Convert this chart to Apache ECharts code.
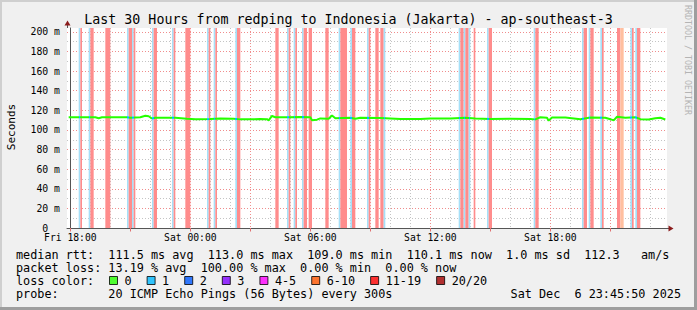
<!DOCTYPE html>
<html><head><meta charset="utf-8">
<script src="https://cdn.jsdelivr.net/npm/echarts@6/dist/echarts.min.js"></script>
<style>html,body{margin:0;padding:0;background:#f0f0f0}#c{width:697px;height:310px}</style>
</head><body><div id="c"></div>
<script>
// ---- data (x values in minutes since Fri 18:00) ----
const titleText = 'Last 30 Hours from redping to Indonesia (Jakarta) - ap-southeast-3';
const xLabelMinutes = [0, 360, 720, 1080, 1440];
const xLabelTexts = ['Fri 18:00', 'Sat 00:00', 'Sat 06:00', 'Sat 12:00', 'Sat 18:00'];
const xMajorTickMinutes = [0, 180, 360, 540, 720, 900, 1080, 1260, 1440, 1620];
const yTickValues = [0, 20, 40, 60, 80, 100, 120, 140, 160, 180, 200];

const medianMinutes = [-5, 75, 85, 95, 170, 180, 210, 225, 235, 245, 255, 280, 315, 350, 375, 420, 450, 490, 510, 550, 570, 590, 595, 605, 615, 650, 690, 720, 725, 740, 750, 775, 785, 795, 840, 855, 870, 930, 990, 1050, 1080, 1140, 1185, 1215, 1260, 1320, 1380, 1395, 1410, 1430, 1435, 1445, 1485, 1530, 1560, 1605, 1620, 1630, 1640, 1665, 1695, 1710, 1735, 1755, 1770, 1785];
const medianValues  = [113, 113, 112, 113, 113, 112.5, 113, 114.5, 114, 111.7, 112.5, 112.5, 112.5, 111.5, 111, 111.2, 111.8, 111.5, 110.8, 110.8, 111.2, 111, 109.8, 114.3, 113, 113, 113.2, 113, 110, 110.5, 111.8, 111.5, 114.8, 112, 112.5, 111.5, 112.5, 112.3, 111.3, 111.3, 111.8, 111.8, 112.5, 111.8, 111.3, 111.5, 111.3, 110.8, 113, 112.5, 109.5, 112.8, 112.7, 111, 112.7, 112.5, 111, 109.8, 113.5, 112.5, 113, 111, 110.7, 112, 112.5, 110.7];

const lossStart = [25, 30, 55, 60, 105, 170, 175, 185, 190, 245, 250, 305, 310, 345, 410, 415, 430, 435, 495, 500, 615, 650, 655, 670, 675, 695, 700, 715, 765, 805, 810, 840, 845, 890, 895, 915, 930, 940, 1165, 1170, 1180, 1185, 1195, 1210, 1250, 1255, 1390, 1395, 1535, 1540, 1555, 1560, 1590, 1595, 1640, 1650, 1680, 1685, 1695, 1700];
const lossEnd   = [30, 35, 60, 70, 120, 175, 185, 190, 195, 250, 260, 310, 315, 360, 415, 420, 435, 440, 500, 510, 625, 655, 660, 675, 680, 700, 710, 725, 775, 810, 830, 845, 855, 895, 900, 925, 940, 945, 1170, 1180, 1185, 1195, 1200, 1215, 1255, 1265, 1395, 1405, 1540, 1550, 1560, 1570, 1595, 1600, 1650, 1660, 1685, 1690, 1700, 1710];
const lossLevel = ['1','11-19','1','11-19','11-19','1','11-19','1','11-19','1','11-19','1','11-19','11-19','1','11-19','1','11-19','1','11-19','11-19','1','11-19','1','11-19','1','11-19','11-19','11-19','1','11-19','1','11-19','1','11-19','11-19','11-19','1','1','11-19','1','11-19','1','11-19','1','11-19','1','11-19','1','11-19','1','11-19','1','11-19','11-19','6-10','1','11-19','1','11-19'];

const lossNames  = ['0', '1', '2', '3', '4-5', '6-10', '11-19', '20/20'];
const lossColors = ['#26ff00', '#00b8ff', '#0059ff', '#7e00ff', '#ff00ff', '#ff5500', '#ff0000', '#a10000'];

const legendRows = [
  'median rtt:  111.5 ms avg  113.0 ms max  109.0 ms min  110.1 ms now  1.0 ms sd  112.3   am/s',
  'packet loss: 13.19 % avg  100.00 % max  0.00 % min  0.00 % now',
  'loss color:',
  'probe:       20 ICMP Echo Pings (56 Bytes) every 300s'
];
const dateText = 'Sat Dec  6 23:45:50 2025';

// ---- styles ----
const MONO = '"DejaVu Sans Mono", monospace';
const stripColor = {'1': '#a6e0f8', '6-10': '#ffbf9f', '11-19': '#ff8c8c'};
const RED = '#f08c8c', GRAY = '#c4c4c4';
const nb = s => s.replace(/ /g, '\u00a0');

const G = {left: 67, top: 28, width: 600, height: 200};

// x split-line colour cycle: ticks every 5 min from -10; red every 3h, gray every 1h
const xCycle = [];
for (let i = 0; i < 36; i++) {
  const m = -10 + 5 * i;
  const mm = ((m % 180) + 180) % 180;
  xCycle.push(mm === 0 ? RED : (mm % 60 === 0 ? GRAY : 'rgba(0,0,0,0)'));
}
const yCycle = [];
for (let i = 0; i < 22; i++) yCycle.push(i === 21 ? 'rgba(0,0,0,0)' : (i % 2 === 0 ? RED : GRAY));

const strips = lossStart.map((s, i) => [
  {xAxis: s, itemStyle: {color: stripColor[lossLevel[i]], opacity: 1}},
  {xAxis: lossEnd[i]}
]);

// median line turns blue where one packet was lost
const bluePieces = [];
lossStart.forEach((s, i) => { if (lossLevel[i] === '1') bluePieces.push({gte: s, lt: lossEnd[i], color: lossColors[1]}); });

const chart = echarts.init(document.getElementById('c'), null, {renderer: 'svg'});

const series = [
  {
    name: 'loss', type: 'line', data: [], z: 1, silent: true,
    markArea: {silent: true, itemStyle: {opacity: 1}, label: {show: false}, data: strips}
  },
  {
    name: 'median', type: 'line', z: 3, showSymbol: false, silent: true,
    data: medianMinutes.map((m, i) => [m, medianValues[i]]),
    lineStyle: {width: 2}
  }
];
lossNames.forEach((n, i) => series.push({
  name: n, type: 'scatter', data: [], itemStyle: {color: lossColors[i]}
}));

const graphic = [
  {type: 'rect', shape: {x: 0, y: 0, width: 697, height: 2}, style: {fill: '#cfcfcf'}, silent: true},
  {type: 'rect', shape: {x: 0, y: 0, width: 2, height: 310}, style: {fill: '#cfcfcf'}, silent: true},
  {type: 'rect', shape: {x: 0, y: 307, width: 697, height: 3}, style: {fill: '#9e9e9e'}, silent: true},
  {type: 'rect', shape: {x: 694, y: 0, width: 3, height: 310}, style: {fill: '#9e9e9e'}, silent: true},
  {type: 'text', x: 348.5, y: 19, silent: true,
   style: {text: nb(titleText), font: '13.3px ' + MONO, fill: '#000', align: 'center', verticalAlign: 'middle'}},
  {type: 'text', x: 11, y: 127, rotation: Math.PI / 2, silent: true,
   style: {text: 'Seconds', font: '11px ' + MONO, fill: '#000', align: 'center', verticalAlign: 'middle'}},
  {type: 'text', x: 688, y: 60, rotation: -Math.PI / 2, silent: true,
   style: {text: nb('RRDTOOL / TOBI OETIKER'), font: '8.3px ' + MONO, fill: '#b4b4b4', align: 'center', verticalAlign: 'middle'}},
  {type: 'line', shape: {x1: 67.5, y1: 24, x2: 67.5, y2: 28}, style: {stroke: '#555', lineWidth: 1}, silent: true},
  {type: 'polygon', shape: {points: [[67.5, 20.5], [64.5, 25.5], [70.5, 25.5]]}, style: {fill: '#8b1c1c'}, silent: true},
  {type: 'line', shape: {x1: 667, y1: 228.5, x2: 670, y2: 228.5}, style: {stroke: '#555', lineWidth: 1}, silent: true},
  {type: 'polygon', shape: {points: [[673.5, 228.5], [668.5, 225.5], [668.5, 231.5]]}, style: {fill: '#8b1c1c'}, silent: true}
];
const rowY = [254.5, 267.5, 280.5, 294];
legendRows.forEach((t, i) => graphic.push({
  type: 'text', x: 16, y: rowY[i], silent: true,
  style: {text: nb(t), font: '11.8px ' + MONO, fill: '#000', align: 'left', verticalAlign: 'middle'}
}));
graphic.push({type: 'text', x: 681, y: rowY[3], silent: true,
  style: {text: nb(dateText), font: '11.8px ' + MONO, fill: '#000', align: 'right', verticalAlign: 'middle'}});

chart.setOption({
  animation: false,
  backgroundColor: '#f0f0f0',
  grid: {left: G.left, top: G.top, width: G.width, height: G.height, show: true, backgroundColor: '#ffffff', borderWidth: 0, containLabel: false},
  visualMap: {
    type: 'piecewise', show: false, dimension: 0, seriesIndex: 1,
    pieces: bluePieces, outOfRange: {color: lossColors[0]}
  },
  xAxis: [
    {
      type: 'value', min: -10, max: 1790, interval: 5, position: 'bottom',
      axisLine: {show: true, onZero: false, lineStyle: {color: '#555', width: 1}},
      axisTick: {show: false},
      axisLabel: {
        show: true, margin: 4, color: '#000', fontFamily: MONO, fontSize: 9.7,
        formatter: v => { const k = xLabelMinutes.indexOf(Math.round(v)); return k >= 0 ? xLabelTexts[k] : ''; }
      },
      splitLine: {show: true, lineStyle: {color: xCycle, width: 1, type: [1, 2]}}
    },
    {
      type: 'value', min: -10, max: 1790, position: 'bottom', gridIndex: 0,
      axisLine: {show: false},
      axisTick: {show: true, length: 3.5, customValues: xMajorTickMinutes, lineStyle: {color: '#e07070', width: 1}},
      axisLabel: {show: false},
      splitLine: {show: false}
    }
  ],
  yAxis: {
    type: 'value', min: 0, max: 204, interval: 10,
    axisLine: {show: true, lineStyle: {color: '#555', width: 1}},
    axisTick: {show: false},
    axisLabel: {
      margin: 7, color: '#000', fontFamily: MONO, fontSize: 9.8,
      formatter: v => (yTickValues.indexOf(v) >= 0 ? (v === 0 ? '0\u00a0\u00a0' : v + '\u00a0m') : '')
    },
    splitLine: {show: true, lineStyle: {color: yCycle, width: 1, type: [1, 2]}}
  },
  legend: {
    show: true, left: 109, top: 274.5, padding: 0, itemGap: 15, itemWidth: 8, itemHeight: 8,
    icon: 'rect', selectedMode: false,
    textStyle: {fontFamily: MONO, fontSize: 11.8, color: '#000', padding: [0, 0, 0, 2]},
    itemStyle: {borderColor: '#000', borderWidth: 1},
    data: lossNames.map((n, i) => ({name: n, icon: 'rect', itemStyle: {color: lossColors[i], borderColor: '#000', borderWidth: 1}}))
  },
  graphic: graphic,
  series: series
});
</script>
</body></html>
